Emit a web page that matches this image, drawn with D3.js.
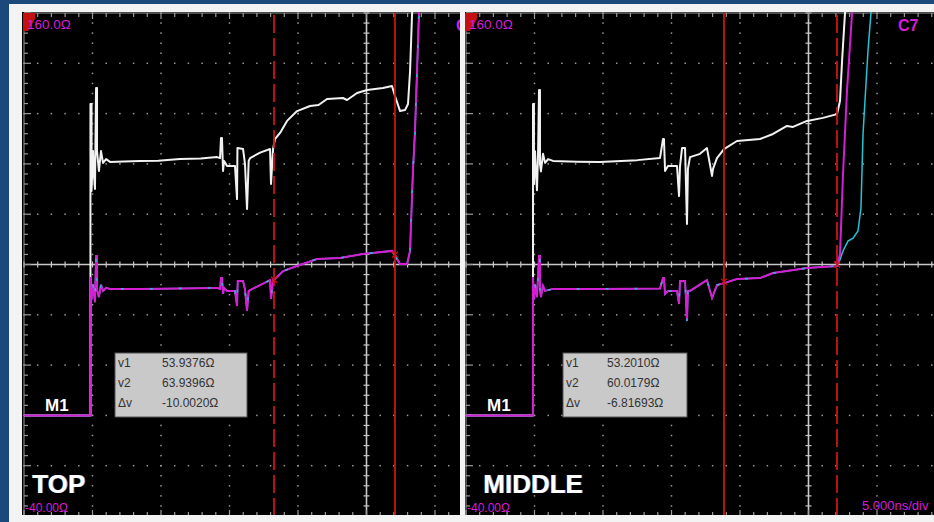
<!DOCTYPE html>
<html>
<head>
<meta charset="utf-8">
<script src="https://cdn.jsdelivr.net/npm/d3@7"></script>
<style>
html, body { margin: 0; padding: 0; background: #1c497c; }
svg { display: block; }
text { font-family: 'Liberation Sans', Arial, sans-serif; }
</style>
</head>
<body>
<script>
const W = 934, H = 522;

// time in ns from the left edge of the screen, impedance in ohms
const timeDomain = [0, 50];
const ohmDomain = [-40, 160];
const scaleLabels = ['160.0Ω', '-40.00Ω', '5.000ns/div'];
const readoutLabels = ['v1', 'v2', 'Δv'];

const topWhite = [
	[0, 0], [4.85, 0], [4.85, 123.8], [4.93, 123.8], [4.93, 89.2], [5.04, 105.1], [5.11, 95.2], [5.18, 90.0],
	[5.26, 130.2], [5.33, 130.2], [5.33, 105.1], [5.47, 97.2], [5.62, 105.1], [5.77, 100.4], [5.99, 101.9],
	[6.28, 100.8], [7.3, 101.0], [8.47, 101.2], [9.8, 101.3], [11.39, 101.9], [12.9, 102.1], [14.09, 102.7],
	[14.31, 102.3], [14.38, 110.3], [14.45, 110.3], [14.53, 97.2], [14.6, 101.2], [14.82, 99.2], [15.40, 99.2],
	[15.55, 86.0], [15.58, 106.3], [15.99, 105.9], [16.13, 100.0], [16.28, 82.1], [16.4, 101.2], [16.50, 102.3],
	[17.23, 104.5], [17.96, 105.9], [18.03, 92.0], [18.18, 105.9], [18.32, 109.9], [18.69, 112.3], [19.20, 117.1],
	[19.93, 121.0], [20.88, 123.0], [21.5, 123.4], [22.12, 125.8], [23.28, 126.2], [23.58, 125.4], [24.31, 128.2],
	[25.04, 129.4], [26.20, 130.2], [26.86, 131.0], [27.08, 127.0], [27.45, 121.0], [27.81, 121.4], [28.03, 123.8],
	[28.18, 136.9], [28.32, 158.8], [28.4, 166]
];
const topMagenta = [
	[0, 0], [4.85, 0], [4.85, 55], [4.93, 46], [5.04, 52], [5.18, 45], [5.26, 63.4], [5.33, 63.4], [5.33, 50],
	[5.47, 47], [5.62, 52], [5.77, 49.5], [5.99, 50.7], [6.28, 50.3], [8.47, 50.3], [11.39, 50.5], [14.09, 50.7],
	[14.31, 50.3], [14.38, 54.6], [14.45, 54.6], [14.53, 48.3], [14.6, 50.7], [14.82, 49.5], [15.40, 49.5],
	[15.55, 43.5], [15.6, 53.4], [15.99, 53.4], [16.13, 50], [16.28, 41.5], [16.4, 49.5], [16.50, 49.8],
	[17.23, 51.8], [17.96, 53.8], [18.03, 46.3], [18.18, 53.8], [18.32, 54.2], [18.91, 57.4], [19.93, 59.4],
	[21.39, 62.2], [23.07, 62.6], [24.74, 64.2], [26.86, 65.4], [27.23, 62.2], [27.45, 60.2], [27.96, 60.2],
	[28.18, 65.4], [28.39, 97.2], [28.54, 113.1], [28.69, 136.9], [28.83, 160], [28.9, 166]
];
const midWhite = [
	[0, 0], [4.89, 0], [4.89, 123.8], [4.96, 123.8], [4.96, 92], [5.04, 105], [5.11, 96], [5.18, 89.5],
	[5.26, 104], [5.33, 129.4], [5.40, 129.4], [5.40, 100], [5.47, 97], [5.62, 104], [5.77, 100.4], [5.99, 101.9],
	[6.35, 101.2], [8.1, 100.9], [9.78, 100.8], [12.5, 101.5], [14.16, 102.3], [14.38, 109.9], [14.45, 109.9],
	[14.53, 97.2], [14.74, 99.2], [15.40, 99.2], [15.55, 87.2], [15.62, 99], [15.77, 106.3], [15.99, 106.3],
	[16.13, 76.1], [16.2, 98], [16.35, 102.7], [17.08, 104], [17.59, 106.3], [17.96, 95.2], [18.03, 98],
	[18.32, 102.3], [18.83, 105.9], [19.78, 109.1], [21.46, 109.9], [22.41, 111.9], [23.43, 115.1], [23.87, 114.7],
	[24.89, 117.1], [26.06, 118.3], [27.08, 119.8], [27.30, 125.0], [27.45, 140.9], [27.66, 159.6], [27.75, 166]
];
const midMagenta = [
	[0, 0], [4.89, 0], [4.89, 55], [4.96, 46], [5.04, 52], [5.18, 47], [5.33, 63.4], [5.40, 63.4], [5.40, 50],
	[5.47, 47], [5.62, 51.5], [5.77, 49.5], [6.35, 50.3], [9.78, 50.3], [14.16, 50.5], [14.38, 54.6],
	[14.45, 54.6], [14.53, 48.3], [14.74, 49.5], [15.40, 49.5], [15.55, 44.3], [15.62, 53.4], [15.99, 53.4],
	[16.13, 37.5], [16.2, 49.5], [16.35, 49.5], [17.59, 53.8], [17.96, 46.7], [18.32, 51.8], [18.83, 52.6],
	[19.78, 54.2], [21.46, 54.6], [22.41, 56.6], [23.43, 57.4], [24.89, 58.6], [27.08, 59.4], [27.30, 64.2],
	[27.52, 96.0], [27.81, 129.0], [28.18, 160], [28.25, 166]
];
const midCyanRise = [
	[27.15, 59.6], [27.52, 65.4], [27.88, 69.3], [28.25, 70.5], [28.61, 73.3], [28.83, 82.5], [28.98, 111.9],
	[29.34, 144.9], [29.56, 160], [29.6, 166]
];

// cursor times (v1, v2) and the readout values
const topCursors = [18.25, 27.08];
const midCursors = [18.83, 27.08];
const topReadout = [53.9376, 63.9396, -10.0020];
const midReadout = [53.2010, 60.0179, -6.81693];

const WHITE_TRACE = '#f2f2f2';
const MAGENTA = '#d41fd4';
const CYAN = '#22c4d6';
const CURSOR_RED = '#cc1414';
const GRID = '#9a9a9a';
const AXIS = '#c8c8c8';

const midShared = midMagenta.filter(d => d[0] <= 27.08);
const midCyan = midShared.concat(midCyanRise);

const panels = [
	{ id: 'top', x0: 24, left: 22, right: 460, white: topWhite, magenta: topMagenta, cyan: topMagenta, shared: topMagenta,
		cursors: topCursors, dashed: [true, false], readout: topReadout, label: 'TOP', labelDx: 8, chan: 'C',
		box: { dx: 91, w: 132, valDx: 47 }, showDiv: false },
	{ id: 'mid', x0: 466, left: 465, right: 934, white: midWhite, magenta: midMagenta, cyan: midCyan, shared: midShared,
		cursors: midCursors, dashed: [false, true], readout: midReadout, label: 'MIDDLE', labelDx: 17, chan: 'C7',
		box: { dx: 97, w: 124, valDx: 44 }, showDiv: true }
];

const svg = d3.select('body').append('svg').attr('width', W).attr('height', H);
svg.append('rect').attr('width', W).attr('height', H).attr('fill', '#1c497c');
svg.append('rect').attr('x', 9).attr('y', 4).attr('width', W - 9).attr('height', H - 4).attr('fill', '#f3f3f3');

const fmt = d3.formatLocale({ decimal: '.', thousands: ',', grouping: [3], currency: ['', ''], minus: '-' }).format('.6g');
const defs = svg.append('defs');

panels.forEach(p => drawPanel(p));

function drawPanel(p) {
	const x = d3.scaleLinear().domain(timeDomain).range([p.x0, p.x0 + 685]);
	const y = d3.scaleLinear().domain(ohmDomain).range([516, 13]);

	defs.append('clipPath').attr('id', `clip-${p.id}`)
		.append('rect').attr('x', p.left).attr('y', 12).attr('width', p.right - p.left).attr('height', 503);

	svg.append('rect').attr('x', p.left).attr('y', 12).attr('width', p.right - p.left).attr('height', 503)
		.attr('fill', '#000');

	const g = svg.append('g').attr('clip-path', `url(#clip-${p.id})`);

	// dotted division grid
	const dots = [];
	d3.range(5, 50, 5).filter(t => t !== 25).forEach(t => {
		d3.range(-40, 161, 4).forEach(v => dots.push([t, v]));
	});
	d3.range(-20, 160, 20).filter(v => v !== 60).forEach(v => {
		d3.range(0, 51, 1).forEach(t => dots.push([t, v]));
	});
	g.append('g').selectAll('rect')
		.data(dots)
		.join('rect')
		.attr('x', d => x(d[0]) - 0.75)
		.attr('y', d => y(d[1]) - 0.75)
		.attr('width', 1.5)
		.attr('height', 1.5)
		.attr('fill', GRID);

	// centre lines with minor ticks
	g.append('line').attr('x1', x(0)).attr('x2', x(50)).attr('y1', y(60)).attr('y2', y(60))
		.attr('stroke', AXIS).attr('stroke-width', 1.6);
	g.append('line').attr('x1', x(25)).attr('x2', x(25)).attr('y1', y(-40)).attr('y2', y(160))
		.attr('stroke', AXIS).attr('stroke-width', 1.6);
	g.append('g').selectAll('line')
		.data(d3.range(0, 51, 1))
		.join('line')
		.attr('x1', d => x(d)).attr('x2', d => x(d))
		.attr('y1', y(60) - 3).attr('y2', y(60) + 3)
		.attr('stroke', AXIS).attr('stroke-width', 1.2);
	g.append('g').selectAll('line')
		.data(d3.range(-40, 161, 4))
		.join('line')
		.attr('x1', x(25) - 3).attr('x2', x(25) + 3)
		.attr('y1', d => y(d)).attr('y2', d => y(d))
		.attr('stroke', AXIS).attr('stroke-width', 1.2);

	// frame edges with ticks
	g.append('line').attr('x1', x(0)).attr('x2', x(50)).attr('y1', y(160)).attr('y2', y(160))
		.attr('stroke', GRID).attr('stroke-width', 1);
	g.append('line').attr('x1', x(0)).attr('x2', x(0)).attr('y1', y(-40)).attr('y2', y(160))
		.attr('stroke', GRID).attr('stroke-width', 1);
	g.append('g').selectAll('line')
		.data(d3.range(0, 51, 1))
		.join('line')
		.attr('x1', d => x(d)).attr('x2', d => x(d))
		.attr('y1', y(160)).attr('y2', d => y(160) + (d % 5 === 0 ? 6 : 4))
		.attr('stroke', GRID).attr('stroke-width', 1.2);
	g.append('g').selectAll('line')
		.data(d3.range(0, 51, 1))
		.join('line')
		.attr('x1', d => x(d)).attr('x2', d => x(d))
		.attr('y1', y(-40)).attr('y2', d => y(-40) - (d % 5 === 0 ? 6 : 4))
		.attr('stroke', GRID).attr('stroke-width', 1.2);
	g.append('g').selectAll('line')
		.data(d3.range(-40, 161, 4))
		.join('line')
		.attr('x1', x(0)).attr('x2', d => x(0) + (d % 20 === 0 ? 7 : 4))
		.attr('y1', d => y(d)).attr('y2', d => y(d))
		.attr('stroke', GRID).attr('stroke-width', 1.2);

	// channel marker, top left
	g.append('path')
		.attr('d', `M${x(0) - 1},${y(160)} h12 v6 l-7,12 h-5 z`)
		.attr('fill', '#c41010');

	// traces
	const line = d3.line().x(d => x(d[0])).y(d => y(d[1]));
	g.append('path').attr('d', line(p.white)).attr('fill', 'none')
		.attr('stroke', WHITE_TRACE).attr('stroke-width', 2).attr('stroke-linejoin', 'round');
	g.append('path').attr('d', line(p.cyan)).attr('fill', 'none')
		.attr('stroke', CYAN).attr('stroke-width', 1.5);
	g.append('path').attr('d', line(p.magenta)).attr('fill', 'none')
		.attr('stroke', MAGENTA).attr('stroke-width', 2);
	g.append('path').attr('d', line(p.shared.filter(d => d[0] > 5))).attr('fill', 'none')
		.attr('stroke', CYAN).attr('stroke-width', 1.6).attr('stroke-dasharray', '3,26').attr('opacity', 0.85);

	// cursors
	p.cursors.forEach((t, i) => {
		g.append('line')
			.attr('x1', x(t)).attr('x2', x(t)).attr('y1', y(-40)).attr('y2', y(160))
			.attr('stroke', CURSOR_RED).attr('stroke-width', 1.8)
			.attr('stroke-dasharray', p.dashed[i] ? '18,5' : null);
		const cx = x(t), cy = y(p.readout[i]);
		g.append('path')
			.attr('d', `M${cx - 3},${cy - 3}L${cx + 3},${cy + 3}M${cx - 3},${cy + 3}L${cx + 3},${cy - 3}`)
			.attr('stroke', CURSOR_RED).attr('stroke-width', 1.3);
	});

	// labels
	g.append('text').attr('x', p.x0 + 3).attr('y', 29).text(scaleLabels[0])
		.attr('fill', MAGENTA).attr('font-size', 13.5);
	g.append('text').attr('x', p.x0 + 1).attr('y', 512).text(scaleLabels[1])
		.attr('fill', MAGENTA).attr('font-size', 12);
	g.append('text').attr('x', p.x0 + 432).attr('y', 31).text(p.chan)
		.attr('fill', MAGENTA).attr('font-size', 16).attr('font-weight', 'bold');
	if (p.showDiv) {
		g.append('text').attr('x', p.x0 + 396).attr('y', 510).text(scaleLabels[2])
			.attr('fill', MAGENTA).attr('font-size', 13);
	}
	g.append('text').attr('x', p.x0 + 21).attr('y', 411).text('M1')
		.attr('fill', '#fff').attr('font-size', 17).attr('font-weight', 'bold');
	g.append('text').attr('x', p.x0 + p.labelDx + 1).attr('y', 493).text(p.label)
		.attr('fill', '#6a8cc8').attr('font-size', 26).attr('font-weight', 'bold');
	g.append('text').attr('x', p.x0 + p.labelDx).attr('y', 493).text(p.label)
		.attr('fill', '#fff').attr('font-size', 26).attr('font-weight', 'bold');

	// cursor readout box
	const bx = p.x0 + p.box.dx;
	const box = g.append('g');
	box.append('rect').attr('x', bx).attr('y', 353).attr('width', p.box.w).attr('height', 64)
		.attr('fill', '#c9c9c9').attr('stroke', '#555').attr('stroke-width', 1);
	box.selectAll('text.lab')
		.data(readoutLabels)
		.join('text')
		.attr('class', 'lab')
		.attr('x', bx + 3)
		.attr('y', (d, i) => 367 + i * 20)
		.attr('fill', '#333')
		.attr('font-size', 12)
		.text(d => d);
	box.selectAll('text.val')
		.data(p.readout)
		.join('text')
		.attr('class', 'val')
		.attr('x', bx + p.box.valDx)
		.attr('y', (d, i) => 367 + i * 20)
		.attr('fill', '#333')
		.attr('font-size', 12)
		.text(d => fmt(d) + 'Ω');
}
</script>
</body>
</html>
